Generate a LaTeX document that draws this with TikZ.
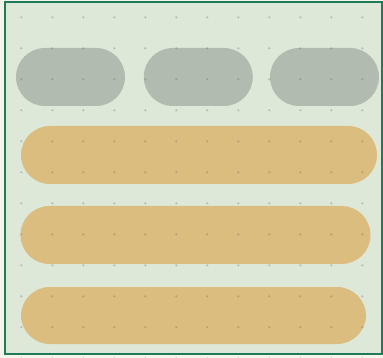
\documentclass[tikz,border=0pt]{standalone}
\usetikzlibrary{positioning}

\definecolor{paper}{HTML}{F6F4E9}
\definecolor{panel}{HTML}{DEE8D9}
\definecolor{frameline}{HTML}{1E7A5A}
\definecolor{slate}{HTML}{B1BBB0}
\definecolor{sand}{HTML}{DBBD80}

\begin{document}
\begin{tikzpicture}[
  x=1pt, y=-1pt,
  pill/.style   = {rectangle, rounded corners=28.9pt, inner sep=0pt,
                   minimum height=58pt},
  slatepill/.style = {pill, fill=slate, minimum width=109pt},
  sandpill/.style  = {pill, fill=sand},
  dot/.style    = {fill=black!60, opacity=0.34}
]
\useasboundingbox (0,0) rectangle (383,358);
\fill[paper] (0,0) rectangle (383,358);
\draw[frameline, fill=panel, line width=2.2pt] (5,2.3) rectangle (381.7,354);

% top row
\node[slatepill] (s1) at (70.5,77)  {};
\node[slatepill] (s2) at (198.3,77) {};
\node[slatepill] (s3) at (324.5,77) {};

% long bars
\node[sandpill, minimum width=356pt] (b1) at (199,155)     {};
\node[sandpill, minimum width=350pt] (b2) at (195.5,235)   {};
\node[sandpill, minimum width=345pt, minimum height=57pt] (b3) at (193.5,315.5) {};

% dot grid
\foreach \i in {0,...,11}
  \foreach \j in {0,...,11}
    \fill[dot] (21.3+31*\i,17.3+31*\j) circle (1.2pt);
\end{tikzpicture}
\end{document}
